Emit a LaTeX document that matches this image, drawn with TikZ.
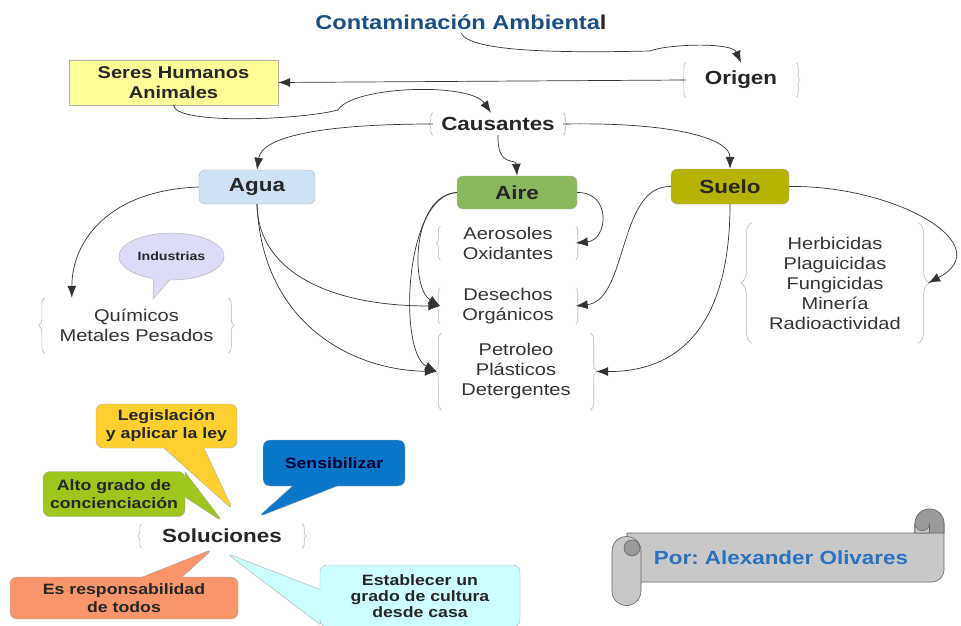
\documentclass[tikz,border=0pt]{standalone}
\usepackage{fontspec}
\setmainfont{Liberation Sans}[FakeStretch=1.18]
\usetikzlibrary{calc}
\usetikzlibrary{arrows.meta,decorations.pathreplacing,shapes.callouts}

\definecolor{titleblue}{HTML}{1B4F82}
\definecolor{seresyellow}{HTML}{FFFF99}
\definecolor{aguablue}{HTML}{CFE2F3}
\definecolor{airegreen}{HTML}{8CB85C}
\definecolor{sueloolive}{HTML}{B5B400}
\definecolor{legisyellow}{HTML}{FFCF30}
\definecolor{sensblue}{HTML}{0A76C8}
\definecolor{altogreen}{HTML}{9EC61C}
\definecolor{resporange}{HTML}{F8956A}
\definecolor{culturacyan}{HTML}{CCFFFF}
\definecolor{indlavender}{HTML}{DCDCF6}
\definecolor{porblue}{HTML}{2A72C0}
\definecolor{scrollgray}{HTML}{C8C8C8}
\definecolor{scrolldark}{HTML}{9A9A9A}

% left and right curly bracket round a group node
\newcommand{\grpbraces}[2][5pt]{%
    \draw[brc=#1] (#2.south west) -- (#2.north west);
    \draw[brc=#1] (#2.north east) -- (#2.south east);}

\frenchspacing

\begin{document}
\begin{tikzpicture}[x=1pt, y=-1pt,
    hdr/.style={font=\bfseries\fontsize{19}{22}\selectfont, text=black!85, inner sep=0pt},
    lst/.style={font=\fontsize{17}{20}\selectfont, text=black!80, align=center, inner sep=0pt},
    box/.style={draw=gray!60, inner sep=0pt, align=center, text=black!85},
    cat/.style={box, rounded corners=6pt, font=\bfseries\fontsize{19}{22}\selectfont},
    note/.style={rectangle callout, draw=gray!65, rounded corners=7pt, align=center,
        inner sep=0pt, font=\bfseries\fontsize{15}{18}\selectfont, text=black!85},
    brc/.style={decorate, decoration={brace, amplitude=#1}, draw=gray!55, line width=0.6pt},
    brc/.default=5pt,
    arr/.style={-{Latex[length=12pt,width=9pt]}, draw=black!80, line width=0.7pt},
    scroll/.style={draw=gray!80!black, fill=scrollgray, line width=0.6pt}]

    \useasboundingbox (0,0) rectangle (961,626);

    % title
    \node[font=\bfseries\fontsize{20}{24}\selectfont, text=titleblue] (title) at (461,22)
        {Contaminación Ambienta\textcolor{black!85}{l}};

    % origin and causes
    \node[box, fill=seresyellow, minimum width=209pt, minimum height=45pt,
        font=\bfseries\fontsize{17}{20}\selectfont] (seres) at (173.5,82.5) {Seres Humanos\\Animales};
    \node[hdr, minimum width=110pt, minimum height=34pt] (org) at (741,80) {Origen};
    \node[hdr, minimum width=130pt, minimum height=22pt] (cau) at (498,124) {Causantes};
    \grpbraces[4pt]{org}
    \grpbraces[4pt]{cau}

    % categories
    \node[cat, fill=aguablue, minimum width=116pt, minimum height=34pt] (agua) at (257,187) {Agua};
    \node[cat, fill=airegreen, minimum width=120pt, minimum height=33pt] (aire) at (517,192.5) {Aire};
    \node[cat, fill=sueloolive, minimum width=118pt, minimum height=35pt] (suelo) at (730,186.5) {Suelo};

    % pollutants
    \node[lst, minimum width=135pt, minimum height=33pt] (aer) at (508,243) {Aerosoles\\Oxidantes};
    \node[lst, minimum width=135pt, minimum height=30pt] (des) at (508,306) {Desechos\\Orgánicos};
    \node[lst, minimum width=148pt, minimum height=77pt] (pet) at (516,371.5) {Petroleo\\Plásticos\\Detergentes};
    \node[lst, minimum width=166pt, minimum height=120pt] (herb) at (835,283)
        {Herbicidas\\Plaguicidas\\Fungicidas\\Minería\\Radioactividad};
    \node[lst, minimum width=183pt, minimum height=55pt] (quim) at (136.5,325.5) {Químicos\\Metales Pesados};
    \grpbraces[4pt]{aer}
    \grpbraces[4pt]{des}
    \grpbraces[7pt]{pet}
    \grpbraces[11pt]{herb}
    \grpbraces[6pt]{quim}

    \node[ellipse callout, draw=gray!65, fill=indlavender, minimum width=93pt, minimum height=47pt,
        callout absolute pointer={(153,299)}, callout pointer arc=18,
        font=\bfseries\fontsize{12}{14}\selectfont, text=black!85] (ind) at (171.5,256.5) {Industrias};

    % connectors
    \draw[arr] (title.south) .. controls (470,52) and (560,53) .. (650,51)
        .. controls (668,44) and (732,42) .. (org.north);
    \draw[arr] (org.west) -- (seres.east);
    \draw[arr] (seres.south) .. controls (175,125) and (300,120) .. (338,110)
        .. controls (352,86) and (470,82) .. ([xshift=-7pt]cau.north);
    \draw[arr] (cau.west) .. controls (330,124) and (262,135) .. (agua.north);
    \draw[arr] (cau.south) .. controls (497,168) and (516,158) .. (aire.north);
    \draw[arr] (cau.east) .. controls (680,122) and (730,140) .. (suelo.north);

    \draw[arr] (agua.west) .. controls (110,190) and (72,240) .. ([xshift=27pt]quim.north west);
    \draw[arr] (agua.south) .. controls (258,272) and (330,306) .. (des.west);
    \draw[arr] (agua.south) .. controls (262,322) and (350,370) .. ([xshift=-5pt]pet.west);

    \draw[arr] (aire.west) .. controls (412,195) and (410,288) .. (des.west);
    \draw[arr] (aire.west) .. controls (404,195) and (398,352) .. ([xshift=-5pt]pet.west);
    \draw[arr] (aire.east) .. controls (612,192) and (608,240) .. (aer.east);

    \draw[arr] (suelo.west) .. controls (618,185) and (628,300) .. (des.east);
    \draw[arr] (suelo.south) .. controls (730,322) and (682,372) .. ([xshift=6pt]pet.east);
    \draw[arr] (suelo.east) .. controls (895,185) and (1000,245) .. ([xshift=10pt]herb.east);

    % solutions
    \node[hdr, minimum width=160pt, minimum height=24pt] (sol) at (222,536) {Soluciones};
    \grpbraces[4pt]{sol}

    \node[note, fill=legisyellow, minimum width=141pt, minimum height=44pt,
        callout absolute pointer={(233,510)}, callout pointer width=40pt] (legis) at (166.5,426)
        {Legislación\\y aplicar la ley};
    \node[note, fill=sensblue, minimum width=142pt, minimum height=46pt, text=black!80!blue,
        callout absolute pointer={(258,517)}, callout pointer width=45pt] (sens) at (334,463)
        {Sensibilizar};
    \node[note, fill=altogreen, minimum width=142pt, minimum height=45pt,
        callout absolute pointer={(223,522)}, callout pointer width=25pt] (alto) at (114,494)
        {Alto grado de\\concienciación};
    \node[note, fill=resporange, minimum width=228pt, minimum height=42pt,
        callout absolute pointer={(213,549)}, callout pointer width=40pt] (resp) at (124,598)
        {Es responsabilidad\\de todos};
    \node[note, fill=culturacyan, minimum width=200pt, minimum height=62pt,
        font=\bfseries\fontsize{15}{16}\selectfont,
        callout absolute pointer={(226,553)}, callout pointer width=35pt] (cult) at (420,596)
        {Establecer un\\grado de cultura\\desde casa};

    % author scroll
    \filldraw[scroll] (627,533) -- (915,533) -- (915,523.5) arc[start angle=180, end angle=0, radius=14.5pt]
        -- (944,570) arc[start angle=0, end angle=-90, radius=12pt] -- (627,582) -- cycle;
    \filldraw[scroll, fill=scrolldark] (915,533) -- (915,523.5) arc[start angle=180, end angle=0, radius=14.5pt]
        -- (944,533) -- cycle;
    \filldraw[scroll] (915,533) -- (915,523.5) arc[start angle=180, end angle=360, radius=7.25pt]
        -- (929.5,533) -- cycle;
    \filldraw[scroll] (612,551) -- (612,591) arc[start angle=180, end angle=360, radius=14.5pt]
        -- (641,551) arc[start angle=0, end angle=180, radius=14.5pt] -- cycle;
    \filldraw[scroll, fill=scrolldark] (632,548) circle (8pt);
    \node[font=\bfseries\fontsize{19}{22}\selectfont, text=porblue] (por) at (781,558) {Por: Alexander Olivares};

\end{tikzpicture}
\end{document}
